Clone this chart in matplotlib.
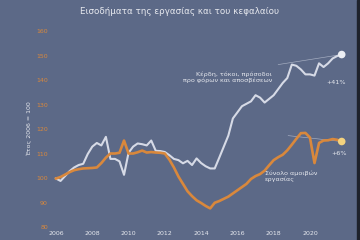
import numpy as np
import matplotlib
matplotlib.use("Agg")
import matplotlib.pyplot as plt
from matplotlib.patches import Rectangle

# ---------------------------------------------------------------
# Data (quarterly index, 2006 = 100), 2006Q1 .. 2021Q4
# ---------------------------------------------------------------
START_YEAR = 2006

capital_income = [
    100, 99, 101, 103,
    104.5, 105.5, 106, 110,
    113, 114.5, 113.5, 117,
    108, 108, 107, 101.5,
    110.5, 113, 114.3, 114,
    113.5, 115.5, 111.3, 111.2,
    110.8, 109.5, 108, 107.5,
    106.2, 107.2, 105.5, 108.2,
    106.3, 105, 104.1, 104.1,
    108.5, 113, 117.5, 124.5,
    127, 129.5, 130.5, 131.5,
    134, 133, 131, 132.5,
    134, 136.5, 139, 141,
    146.5, 146, 144.5, 142.5,
    142.5, 142, 147, 145.5,
    147, 149, 150, 150.6,
]

labour_income = [
    100, 100.6, 101.6, 102.6,
    103.4, 103.8, 104.1, 104.2,
    104.3, 104.5, 106.3, 108.5,
    110.2, 110.2, 110.5, 115.5,
    110.2, 110.2, 110.7, 111.4,
    110.6, 110.8, 110.6, 110.5,
    110.2, 107.7, 104.5, 100.8,
    97.8, 94.8, 92.8, 91.1,
    90, 88.8, 87.8, 90.1,
    90.8, 91.7, 92.6, 93.9,
    95.2, 96.5, 97.8, 99.8,
    101, 101.8, 103.2, 105.4,
    107.5, 108.7, 109.7, 111.5,
    113.8, 116.2, 118.5, 118.6,
    116.7, 106.3, 114.5, 115.5,
    115.6, 116.1, 115.8, 115.1,
]

x_ticks = [2006, 2008, 2010, 2012, 2014, 2016, 2018, 2020]
y_ticks = [80, 90, 100, 110, 120, 130, 140, 150, 160]

# reference segments towards the last value
cap_ref_start = (2018.25, 146.5)
lab_ref_start = (2018.8, 117.5)

# ---------------------------------------------------------------
# Style
# ---------------------------------------------------------------
BG = "#5c6987"
ORANGE = "#d9883c"
WHITE_LINE = "#d6dae6"
TEXT = "#e6e8ee"

W, H, DPI = 360, 240, 100
fig = plt.figure(figsize=(W / DPI, H / DPI), dpi=DPI)
fig.patch.set_facecolor(BG)

# axes placed in pixel terms
left_px, right_px, top_px, bot_px = 50, 352, 28, 230
ax = fig.add_axes([left_px / W, (H - bot_px) / H,
                   (right_px - left_px) / W, (bot_px - top_px) / H])
ax.set_facecolor(BG)

px_per_year = 18.14
px_per_unit = 2.45
x0_px, y100_px = 56, 178.5
ax.set_xlim(START_YEAR - (x0_px - left_px) / px_per_year,
            START_YEAR + (right_px - x0_px) / px_per_year)
ax.set_ylim(100 - (bot_px - y100_px) / px_per_unit,
            100 + (y100_px - top_px) / px_per_unit)

t = START_YEAR + np.arange(len(capital_income)) / 4.0

ax.plot(t, capital_income, color=WHITE_LINE, lw=1.5, solid_joinstyle="round", zorder=3)
ax.plot(t, labour_income, color=ORANGE, lw=1.9, solid_joinstyle="round", zorder=3)

# thin reference lines
ax.plot([cap_ref_start[0], t[-1]], [cap_ref_start[1], capital_income[-1]],
        color="#a9b1c4", lw=0.45, zorder=2)
ax.plot([lab_ref_start[0], t[-1]], [lab_ref_start[1], labour_income[-1]],
        color="#a9b1c4", lw=0.45, zorder=2)

# end markers
ax.scatter([t[-1]], [capital_income[-1]], s=30, color="#eceef3", zorder=4, edgecolors="none")
ax.scatter([t[-1]], [labour_income[-1]], s=30, color="#f3d27e", zorder=4, edgecolors="none")

# axes cosmetics
for s in ax.spines.values():
    s.set_visible(False)
ax.set_xticks(x_ticks)
ax.set_yticks(y_ticks)
ax.tick_params(axis="both", length=0)
ax.tick_params(axis="x", colors=TEXT, labelsize=4.5, pad=1)
ax.tick_params(axis="y", colors=ORANGE, labelsize=4.5, pad=1.5)
ax.set_ylabel("Έτος 2006 = 100", color=TEXT, fontsize=4.5, labelpad=3)

# annotations
ax.text(2017.9, 141.3, "Κέρδη, τόκοι, πρόσοδοι\nπρο φόρων και αποσβέσεων",
        color=TEXT, fontsize=4.6, ha="right", va="center", linespacing=1.15)
ax.text(2021.45, 139.0, "+41%", color=TEXT, fontsize=4.6, ha="center", va="center")
ax.text(2017.5, 100.8, "Σύνολο αμοιβών\nεργασίας",
        color=TEXT, fontsize=4.6, ha="left", va="center", linespacing=1.15)
ax.text(2021.6, 110.4, "+6%", color=TEXT, fontsize=4.6, ha="center", va="center")

fig.text(0.5, 1 - 11 / H, "Εισοδήματα της εργασίας και του κεφαλαίου",
         color=TEXT, fontsize=6.3, ha="center", va="center")

# dark strip at right edge
fig.patches.append(Rectangle((357 / W, 0), 3 / W, 1, transform=fig.transFigure,
                             color="#1e222c", zorder=0))

fig.savefig("out.png", dpi=DPI, facecolor=fig.get_facecolor())
